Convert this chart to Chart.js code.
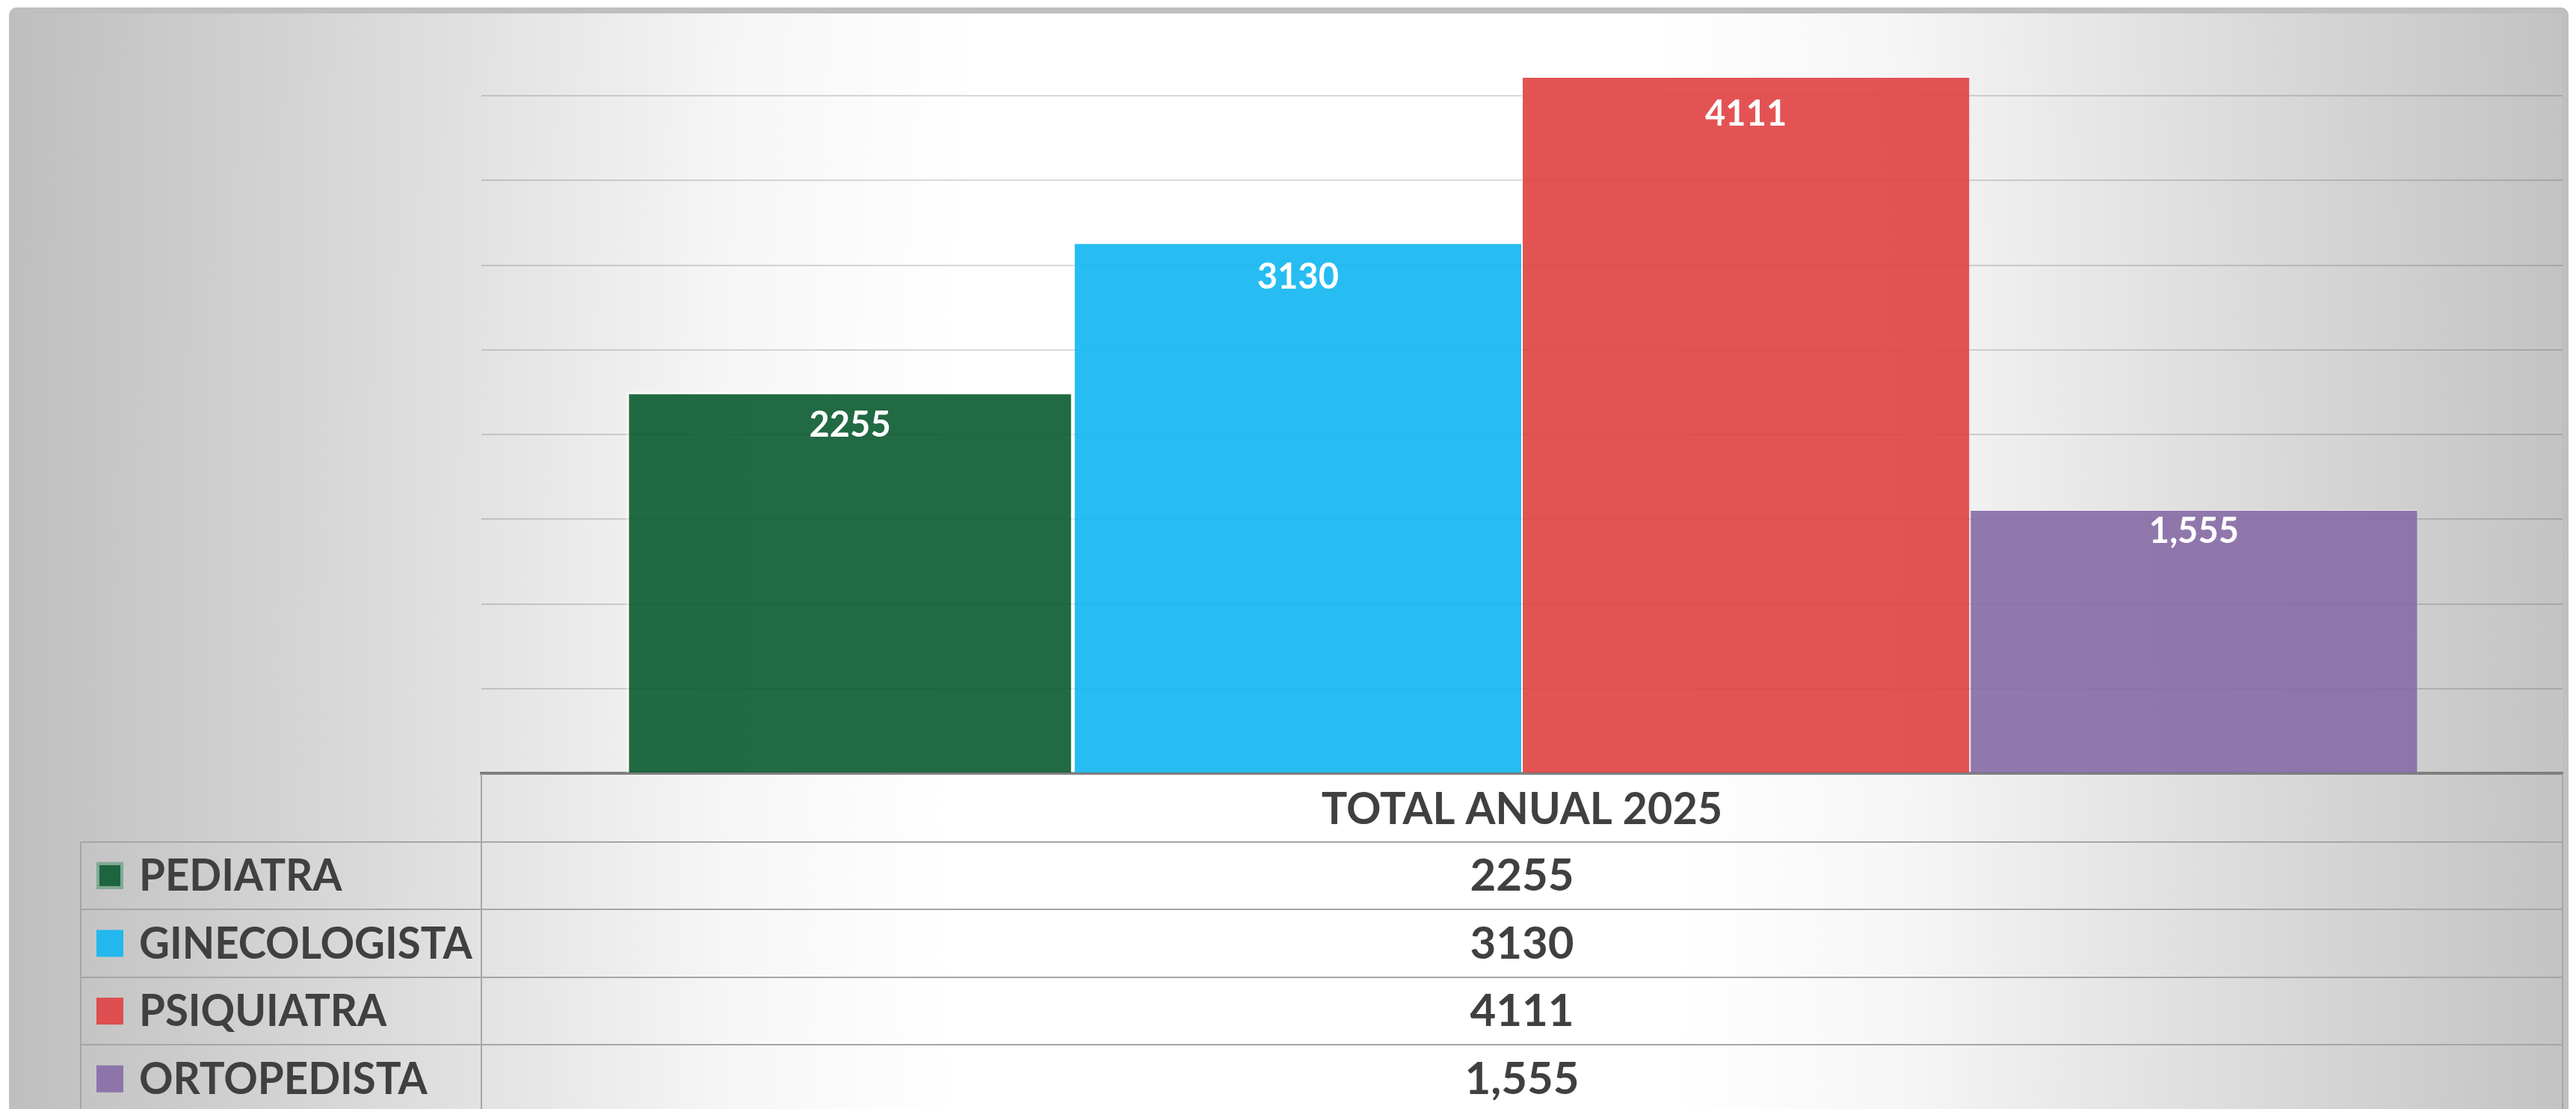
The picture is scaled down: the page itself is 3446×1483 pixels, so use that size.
<!DOCTYPE html>
<html>
<head>
<meta charset="utf-8">
<script src="https://cdn.jsdelivr.net/npm/chart.js@4.4.1/dist/chart.umd.min.js"></script>
<style>
  html, body { margin: 0; padding: 0; background: #fff; }
  #chart { display: block; }
</style>
</head>
<body>
<canvas id="chart" width="3446" height="1483"></canvas>
<script>
// data
const categories = ['TOTAL ANUAL 2025'];
const seriesNames = ['PEDIATRA', 'GINECOLOGISTA', 'PSIQUIATRA', 'ORTOPEDISTA'];
const seriesValues = [2255, 3130, 4111, 1555];
const valueLabels = ['2255', '3130', '4111', '1,555'];
const yMax = 4500;
const yStep = 500;

// styles
const fills = ['rgba(9,90,47,0.9)', 'rgba(16,182,241,0.9)', 'rgba(224,64,65,0.9)', 'rgba(134,108,166,0.9)'];
const borders = [4, 1, 1, 1];
const labelOffsets = [45, 46, 50, 29];
const FONT = 'Lato, "Open Sans", sans-serif';
const TEXT = '#404040';

// text squeezed a little to get closer to the narrow original typeface
function squeezedText(ctx, text, x, y, sx) {
  ctx.save();
  ctx.translate(x, y);
  ctx.scale(sx, 1);
  ctx.fillText(text, 0, 0);
  ctx.restore();
}

const panelPlugin = {
  id: 'panel',
  beforeDraw(chart) {
    const { ctx, width, height } = chart;
    ctx.save();
    ctx.fillStyle = '#fff';
    ctx.fillRect(0, 0, width, height);
    // grey-white-grey background of the chart panel
    ctx.beginPath();
    ctx.roundRect(12, 10, 3424, 1600, 10);
    ctx.clip();
    ctx.save();
    ctx.translate(1760, 1000);
    ctx.scale(1, 5);
    const g = ctx.createRadialGradient(0, 0, 0, 0, 0, 1760);
    g.addColorStop(0, '#ffffff');
    g.addColorStop(0.28, '#ffffff');
    g.addColorStop(0.45, '#f6f6f6');
    g.addColorStop(0.7, '#dcdcdc');
    g.addColorStop(1, '#bebebe');
    ctx.fillStyle = g;
    ctx.fillRect(-1800, -300, 3600, 600);
    ctx.restore();
    ctx.strokeStyle = '#bfbfbf';
    ctx.lineWidth = 8;
    ctx.beginPath();
    ctx.roundRect(16, 14, 3416, 1600, 8);
    ctx.stroke();
    ctx.restore();
  }
};

const labelPlugin = {
  id: 'barLabels',
  afterDatasetsDraw(chart) {
    const { ctx } = chart;
    ctx.save();
    ctx.fillStyle = '#fff';
    ctx.font = 'bold 47px ' + FONT;
    ctx.textAlign = 'center';
    ctx.textBaseline = 'middle';
    chart.data.datasets.forEach((ds, i) => {
      const bar = chart.getDatasetMeta(i).data[0];
      ctx.fillText(valueLabels[i], bar.x, bar.y + labelOffsets[i]);
    });
    ctx.restore();
  }
};

// data table under the plot
const tablePlugin = {
  id: 'dataTable',
  afterDraw(chart) {
    const { ctx, chartArea } = chart;
    const left = chartArea.left, right = chartArea.right, top = chartArea.bottom + 1;
    const keyLeft = 108, rowH = 90.6;
    ctx.save();
    ctx.strokeStyle = '#a6a6a6';
    ctx.lineWidth = 2;
    ctx.beginPath();
    for (let r = 1; r <= seriesNames.length + 1; r++) {
      const y = Math.round(top + r * rowH);
      ctx.moveTo(keyLeft, y);
      ctx.lineTo(right, y);
    }
    ctx.moveTo(left, top);
    ctx.lineTo(left, 1500);
    ctx.moveTo(keyLeft, top + rowH);
    ctx.lineTo(keyLeft, 1500);
    ctx.moveTo(right, top);
    ctx.lineTo(right, 1500);
    ctx.stroke();

    ctx.fillStyle = TEXT;
    ctx.textBaseline = 'middle';
    ctx.font = 'bold 60px ' + FONT;
    ctx.textAlign = 'center';
    const midX = (left + right) / 2;
    squeezedText(ctx, categories[0], midX, top + rowH / 2 + 2, 0.96);

    seriesNames.forEach((name, i) => {
      const cy = top + rowH * (i + 1.5);
      // legend key
      ctx.fillStyle = fills[i];
      ctx.fillRect(129, cy - 18, 36, 36);
      if (borders[i] > 2) {
        ctx.strokeStyle = 'rgba(255,255,255,0.45)';
        ctx.lineWidth = 4;
        ctx.strokeRect(131, cy - 16, 32, 32);
      }
      ctx.fillStyle = TEXT;
      ctx.textAlign = 'left';
      squeezedText(ctx, name, 186, cy + 1, 0.94);
      ctx.textAlign = 'center';
      ctx.fillText(valueLabels[i], midX, cy + 1);
    });
    ctx.restore();
  }
};

new Chart(document.getElementById('chart'), {
  type: 'bar',
  data: {
    labels: categories,
    datasets: seriesNames.map((name, i) => ({
      label: name,
      data: [seriesValues[i]],
      backgroundColor: fills[i],
      borderColor: 'rgba(255,255,255,0.45)',
      borderWidth: borders[i],
      categoryPercentage: 0.861,
      barPercentage: 1
    }))
  },
  options: {
    responsive: false,
    animation: false,
    devicePixelRatio: 1,
    layout: { padding: { left: 644, right: 18, top: 15, bottom: 449 } },
    plugins: { legend: { display: false }, tooltip: { enabled: false } },
    scales: {
      x: {
        ticks: { display: false },
        grid: { display: false, drawTicks: false },
        border: { display: true, color: '#7f7f7f', width: 4 }
      },
      y: {
        min: 0,
        max: yMax,
        ticks: { display: false, stepSize: yStep },
        grid: {
          drawTicks: false,
          lineWidth: 2,
          color: c => (c.tick.value === 0 || c.tick.value === yMax) ? 'rgba(0,0,0,0)' : 'rgba(0,0,0,0.15)'
        },
        border: { display: false }
      }
    }
  },
  plugins: [panelPlugin, labelPlugin, tablePlugin]
});
</script>
</body>
</html>
